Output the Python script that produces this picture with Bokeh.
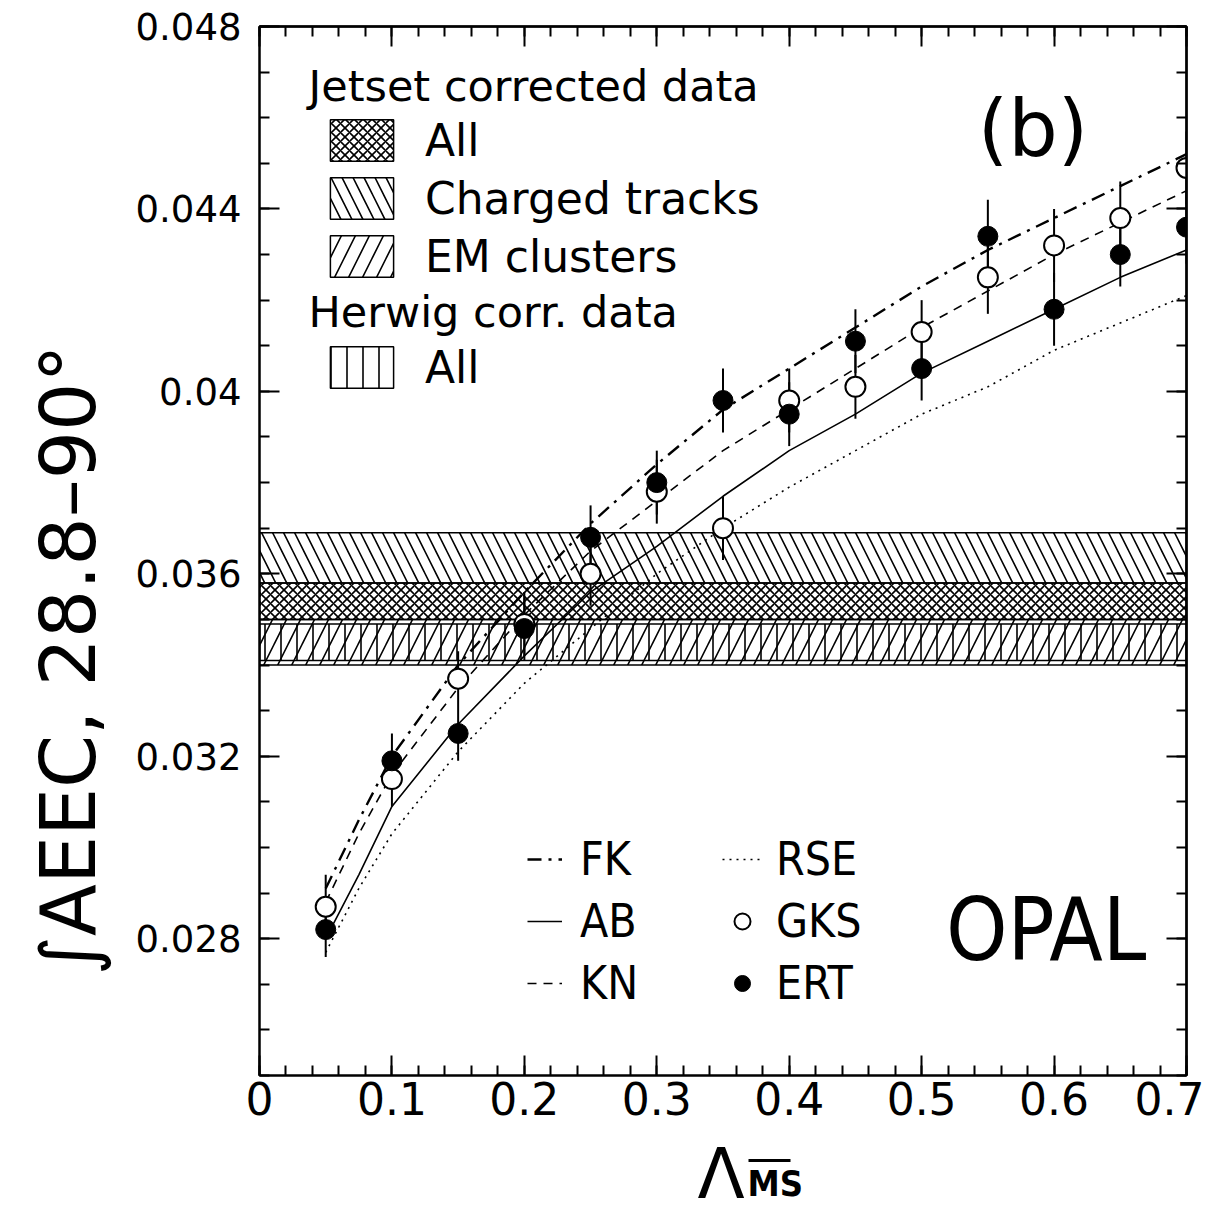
from bokeh.plotting import figure
from bokeh.layouts import column
from bokeh.models import Range1d, FixedTicker, LinearAxis, Label, Legend, LegendItem, Title
from bokeh.embed import file_html
from bokeh.resources import INLINE

# ---------------- data ----------------
lam = [0.05, 0.10, 0.15, 0.20, 0.25, 0.30, 0.35, 0.40, 0.45, 0.50, 0.55, 0.60, 0.65, 0.70]
ert = [0.0282, 0.0319, 0.0325, 0.0348, 0.0368, 0.0380, 0.0398, 0.0395, 0.0411, 0.0405, 0.0434, 0.0418, 0.0430, 0.0436]
ert_err = [0.0006, 0.0006, 0.0006, 0.0007, 0.0007, 0.0007, 0.0007, 0.0007, 0.0007, 0.0007, 0.0008, 0.0008, 0.0007, 0.0008]
gks = [0.0287, 0.0315, 0.0337, 0.0349, 0.0360, 0.0378, 0.0370, 0.0398, 0.0401, 0.0413, 0.0425, 0.0432, 0.0438, 0.0449]
gks_err = [0.0007, 0.0006, 0.0006, 0.0007, 0.0007, 0.0007, 0.0007, 0.0007, 0.0007, 0.0007, 0.0008, 0.0008, 0.0008, 0.0008]

curve_x = [0.05, 0.075, 0.10, 0.15, 0.20, 0.25, 0.30, 0.35, 0.40, 0.45, 0.50, 0.55, 0.60, 0.65, 0.70]
fk = [0.0291, 0.0306, 0.0320, 0.0340, 0.0356, 0.0371, 0.0384, 0.0396, 0.0405, 0.0414, 0.0423, 0.0431, 0.0438, 0.0445, 0.0452]
kn = [0.0288, 0.0303, 0.0316, 0.0335, 0.0351, 0.0365, 0.0376, 0.0387, 0.0396, 0.0405, 0.0414, 0.0422, 0.0430, 0.0437, 0.0444]
ab = [0.0280, 0.0294, 0.0309, 0.0327, 0.0342, 0.0356, 0.0366, 0.0377, 0.0387, 0.0395, 0.0404, 0.0411, 0.0418, 0.0425, 0.0431]
rse = [0.0277, 0.0291, 0.0303, 0.0321, 0.0336, 0.0348, 0.0360, 0.0370, 0.0379, 0.0387, 0.0395, 0.0401, 0.0409, 0.0415, 0.0421]

band_labels = ["All", "Charged tracks", "EM clusters", "All"]
band_lo = [0.0350, 0.0358, 0.0340, 0.0341]
band_hi = [0.0358, 0.0369, 0.0350, 0.0349]

x_ticks = [0.0, 0.1, 0.2, 0.3, 0.4, 0.5, 0.6, 0.7]
x_tick_labels = ["0", "0.1", "0.2", "0.3", "0.4", "0.5", "0.6", "0.7"]
y_ticks = [0.028, 0.032, 0.036, 0.040, 0.044, 0.048]
y_tick_labels = ["0.028", "0.032", "0.036", "0.04", "0.044", "0.048"]
x_minor = [round(i * 0.02, 3) for i in range(36)]
y_minor = [round(0.025 + i * 0.001, 4) for i in range(24)]

y_title = "∫AEEC, 28.8–90°"
x_title = "Λ"
x_title_sub = "MS"

X0, X1 = 0.0, 0.7
Y0, Y1 = 0.025, 0.048

FONT = "DejaVu Sans"
FONT_C = "DejaVu Sans Condensed"

p = figure(width=1204, height=1133, x_range=Range1d(X0, X1), y_range=Range1d(Y0, Y1),
           output_backend="svg", toolbar_location=None,
           min_border_left=259, min_border_right=18, min_border_top=26, min_border_bottom=58)
p.xgrid.visible = False
p.ygrid.visible = False
p.outline_line_color = "black"
p.outline_line_width = 2
p.background_fill_color = "white"
p.border_fill_color = "white"

# ---------------- axes ----------------
def style_axis(ax, ticks, minor, labels, font_size, standoff):
    ax.ticker = FixedTicker(ticks=ticks, minor_ticks=minor)
    ax.major_label_overrides = {t: l for t, l in zip(ticks, labels)}
    ax.major_tick_in = 20
    ax.major_tick_out = 0
    ax.minor_tick_in = 10
    ax.minor_tick_out = 0
    ax.axis_line_width = 2
    ax.major_tick_line_width = 2
    ax.minor_tick_line_width = 2
    ax.major_label_text_font = FONT
    ax.major_label_text_color = "black"
    ax.major_label_text_font_size = font_size
    ax.major_label_standoff = standoff

style_axis(p.xaxis[0], x_ticks, x_minor, x_tick_labels, "44px", 6)
style_axis(p.yaxis[0], y_ticks, y_minor, y_tick_labels, "37px", 18)

def tick_only_axis(positions, length):
    ax = LinearAxis(ticker=FixedTicker(ticks=[], minor_ticks=positions))
    ax.minor_tick_in = length
    ax.minor_tick_out = 0
    ax.major_tick_in = 0
    ax.major_tick_out = 0
    ax.minor_tick_line_width = 2
    ax.axis_line_width = 2
    ax.major_label_standoff = 0
    return ax

p.add_layout(tick_only_axis(x_minor, 10), "above")
p.add_layout(tick_only_axis(x_ticks, 20), "above")
p.add_layout(tick_only_axis(y_minor, 10), "right")
p.add_layout(tick_only_axis(y_ticks, 20), "right")

p.add_layout(Title(text=y_title, align="left", offset=100, standoff=40,
                   text_font=FONT, text_font_size="76px", text_font_style="normal",
                   text_color="black"), "left")

# ---------------- bands ----------------
patterns = ["x", "\\", "/", "|"]
scales = [9, 22, 28, 16]
band_r = []
for lo, hi, pat, sc in zip(band_lo, band_hi, patterns, scales):
    r = p.quad(left=[X0], right=[X1], bottom=[lo], top=[hi],
               fill_alpha=0, line_color="black", line_width=1.5,
               hatch_pattern=pat, hatch_scale=sc, hatch_weight=1.6, hatch_color="black")
    band_r.append(r)

# ---------------- curves ----------------
r_fk = p.line(curve_x, fk, line_color="black", line_width=2.4, line_dash="14 7 3 7")
r_ab = p.line(curve_x, ab, line_color="black", line_width=1.6)
r_kn = p.line(curve_x, kn, line_color="black", line_width=1.6, line_dash="9 7")
r_rse = p.line(curve_x, rse, line_color="black", line_width=1.6, line_dash="2 5")

# ---------------- error bars and points ----------------
p.segment(x0=lam, x1=lam, y0=[v - e for v, e in zip(gks, gks_err)], y1=[v + e for v, e in zip(gks, gks_err)],
          line_color="black", line_width=2)
p.segment(x0=lam, x1=lam, y0=[v - e for v, e in zip(ert, ert_err)], y1=[v + e for v, e in zip(ert, ert_err)],
          line_color="black", line_width=2)
r_gks = p.scatter(lam, gks, marker="circle", size=20, fill_color="white", line_color="black", line_width=2)
r_ert = p.scatter(lam, ert, marker="circle", size=20, fill_color="black", line_color="black")

# ---------------- top legend ----------------
p.add_layout(Label(x=49, y=990, x_units="screen", y_units="screen", text="Jetset corrected data",
                   text_font=FONT, text_font_size="43px", text_color="black", text_baseline="middle"))
p.add_layout(Label(x=49, y=764, x_units="screen", y_units="screen", text="Herwig corr. data",
                   text_font=FONT, text_font_size="43px", text_color="black", text_baseline="middle"))

def mk_legend(items, loc, gw, gh, font, fsize, spacing, standoff):
    return Legend(items=items, location=loc, orientation="vertical",
                  glyph_width=gw, glyph_height=gh, label_height=gh, spacing=spacing,
                  label_standoff=standoff, padding=0, margin=0,
                  border_line_alpha=0, background_fill_alpha=0,
                  label_text_font=font, label_text_font_size=fsize, label_text_color="black")

legA = mk_legend([LegendItem(label=band_labels[i], renderers=[band_r[i]]) for i in range(3)],
                 (63, 793), 79, 52, FONT, "44px", 6, 24)
legB = mk_legend([LegendItem(label=band_labels[3], renderers=[band_r[3]])],
                 (63, 682), 79, 52, FONT, "44px", 6, 24)
legC = mk_legend([LegendItem(label="FK", renderers=[r_fk]),
                  LegendItem(label="AB", renderers=[r_ab]),
                  LegendItem(label="KN", renderers=[r_kn])],
                 (268, 65), 35, 40, FONT_C, "46px", 8, 18)
legD = mk_legend([LegendItem(label="RSE", renderers=[r_rse]),
                  LegendItem(label="GKS", renderers=[r_gks]),
                  LegendItem(label="ERT", renderers=[r_ert])],
                 (463, 65), 40, 40, FONT_C, "46px", 8, 14)
for lg in (legA, legB, legC, legD):
    p.add_layout(lg, "center")

# ---------------- text labels ----------------
p.add_layout(Label(x=0.584, y=0.04575, text="(b)", text_font=FONT, text_font_size="78px",
                   text_color="black", text_align="center", text_baseline="middle"))
p.add_layout(Label(x=0.594, y=0.0282, text="OPAL", text_font=FONT_C, text_font_size="87px",
                   text_color="black", text_align="center", text_baseline="middle"))

# ---------------- x-axis title strip ----------------
p2 = figure(width=1204, height=81, x_range=Range1d(259, 1186), y_range=Range1d(0, 81),
            output_backend="svg", toolbar_location=None,
            min_border_left=259, min_border_right=18, min_border_top=0, min_border_bottom=0)
p2.axis.visible = False
p2.xgrid.visible = False
p2.ygrid.visible = False
p2.outline_line_color = None
p2.background_fill_color = "white"
p2.border_fill_color = "white"
p2.add_layout(Label(x=697, y=41, text=x_title, text_font=FONT, text_font_size="69px",
                    text_color="black", text_baseline="middle"))
p2.add_layout(Label(x=747, y=31, text=x_title_sub, text_font=FONT_C, text_font_size="36px",
                    text_font_style="bold", text_color="black", text_baseline="middle"))
p2.segment(x0=[748], x1=[790], y0=[54], y1=[54], line_color="black", line_width=3)

open("out.html", "w").write(file_html(column(p, p2, spacing=0), INLINE))
